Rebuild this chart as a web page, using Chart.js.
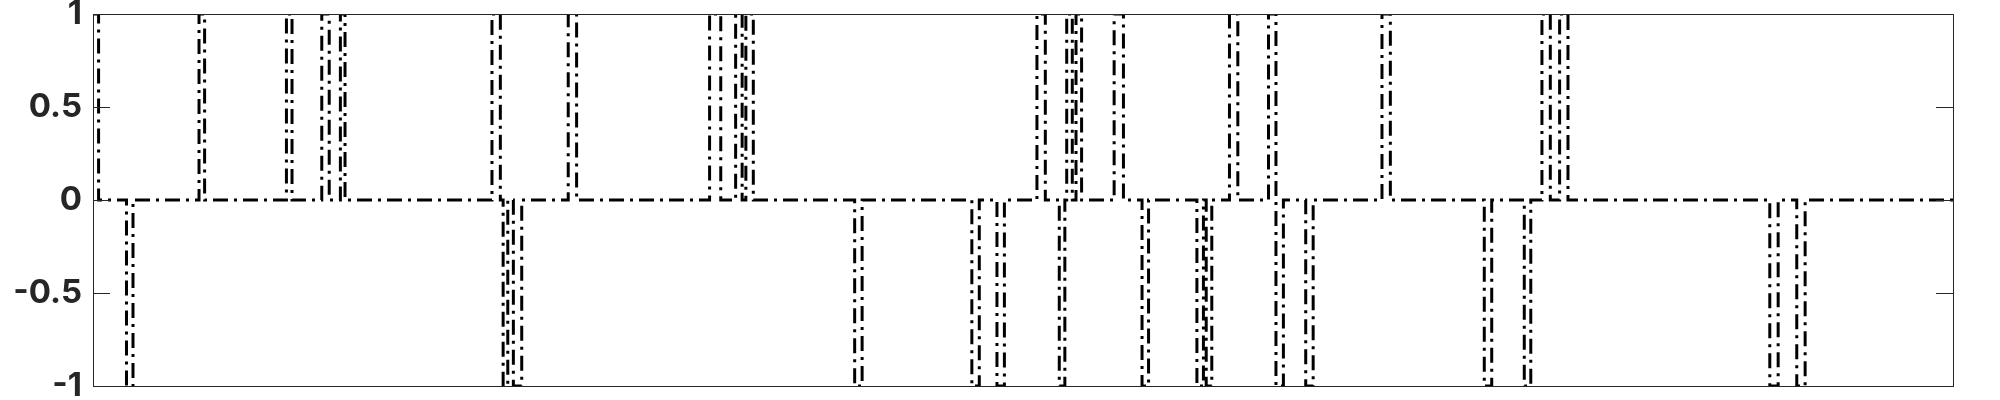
<!DOCTYPE html>
<html>
<head>
<meta charset="utf-8">
<script src="https://cdn.jsdelivr.net/npm/chart.js@4/dist/chart.umd.min.js"></script>
<style>
    html, body { margin: 0; padding: 0; background: #ffffff; }
    .chart-box { width: 2000px; height: 400px; }
</style>
</head>
<body>
<div class="chart-box">
    <canvas id="stepChart" width="2000" height="400"></canvas>
</div>

<script>
    // Signal: the level holds from each change time until the next one
    const stepTimes = [
        0, 3, 18, 21.5, 57, 60, 104, 107, 123, 127, 133, 135.5,
        214.5, 219, 220.5, 223, 226, 230.5, 255.5, 260,
        331.5, 337.5, 345.5, 349, 351, 355,
        409.5, 413.5, 472.5, 476.5, 486, 490,
        507.5, 512, 519.5, 522.5, 523.5, 526.5, 528.5, 531.5,
        549, 554, 564, 567.5, 593.5, 597, 598.5, 601.5,
        611, 615.5, 632, 636, 640, 652, 656, 693, 697.5,
        748, 752, 769.5, 773, 779, 783.5, 788.5, 793,
        901.5, 906, 916, 920.5, 1000
    ];
    const levels = [
        1, 0, -1, 0, 1, 0, 1, 0, 1, 0, 1, 0,
        1, 0, -1, 0, -1, 0, 1, 0,
        1, 0, 1, 0, 1, 0,
        -1, 0, -1, 0, -1, 0,
        1, 0, -1, 0, 1, 0, 1, 0,
        1, 0, -1, 0, -1, 0, -1, 0,
        1, 0, 1, -1, 0, -1, 0, 1, 0,
        -1, 0, -1, 0, 1, 0, 1, 0,
        -1, 0, -1, 0, 0
    ];
    const xRange = [0, 1000];
    const yTickValues = [-1, -0.5, 0, 0.5, 1];
    const yTickLabels = ['-1', '-0.5', '0', '0.5', '1'];

    const axisColor = '#262626';

    // MATLAB style box with inward ticks on left and right
    const boxPlugin = {
        id: 'boxAxes',
        afterDatasetsDraw(chart) {
            const { ctx, chartArea: a, scales: { y } } = chart;
            ctx.save();
            ctx.strokeStyle = axisColor;
            ctx.lineWidth = 1;
            ctx.strokeRect(a.left + 0.5, a.top + 0.5, a.right - a.left, a.bottom - a.top);
            ctx.beginPath();
            yTickValues.forEach(v => {
                const py = Math.round(y.getPixelForValue(v)) + 0.5;
                ctx.moveTo(a.left, py);
                ctx.lineTo(a.left + 17, py);
                ctx.moveTo(a.right, py);
                ctx.lineTo(a.right - 17, py);
            });
            ctx.stroke();
            ctx.restore();
        }
    };

    new Chart(document.getElementById('stepChart'), {
        type: 'line',
        data: {
            datasets: [{
                data: stepTimes.map((t, i) => ({ x: t, y: levels[i] })),
                borderColor: '#000000',
                borderWidth: 3,
                borderDash: [15, 6, 3, 6],
                stepped: true,
                pointRadius: 0,
                fill: false
            }]
        },
        options: {
            responsive: false,
            animation: false,
            layout: { padding: { top: 14, bottom: 14, right: 47, left: 0 } },
            plugins: { legend: { display: false }, tooltip: { enabled: false } },
            scales: {
                x: {
                    type: 'linear',
                    min: xRange[0],
                    max: xRange[1],
                    display: false
                },
                y: {
                    min: -1,
                    max: 1,
                    afterBuildTicks: s => { s.ticks = yTickValues.map(v => ({ value: v })); },
                    afterFit: s => {
                        s.width = 93;
                        s.paddingTop = 0;
                        s.paddingBottom = 0;
                    },
                    grid: { display: false, drawTicks: false },
                    border: { display: false },
                    ticks: {
                        padding: 11,
                        color: axisColor,
                        font: { family: 'Inter', size: 33, weight: 'bold' },
                        callback: v => yTickLabels[yTickValues.indexOf(v)]
                    }
                }
            }
        },
        plugins: [boxPlugin]
    });
</script>
</body>
</html>
